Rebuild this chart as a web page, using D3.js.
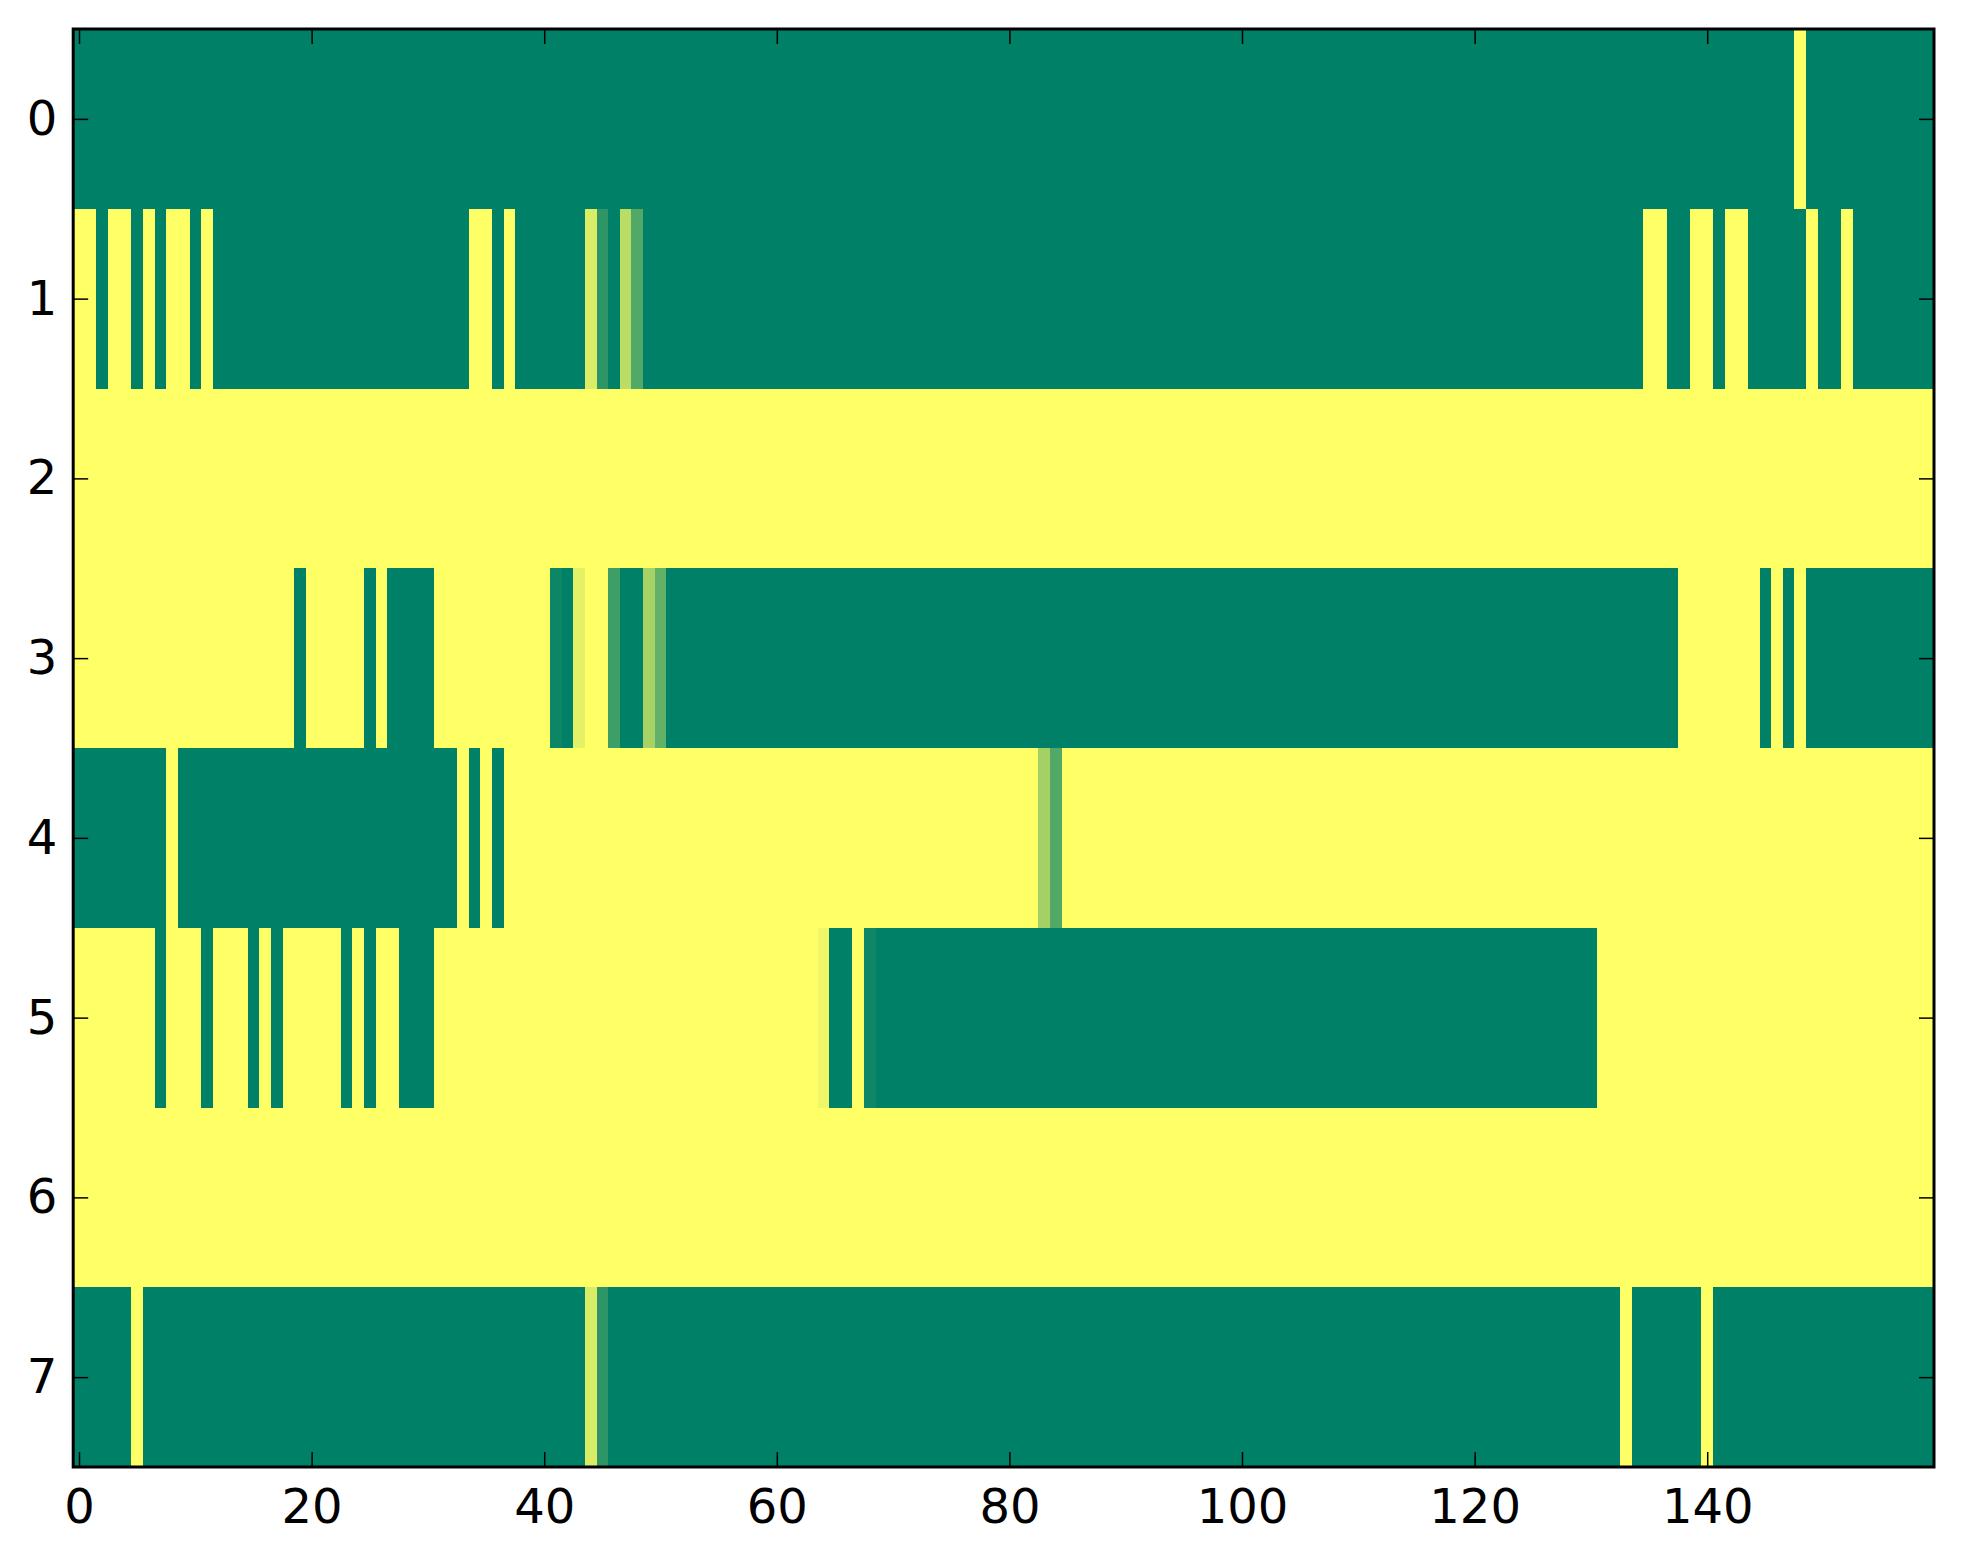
<!DOCTYPE html>
<html>
<head>
<meta charset="utf-8">
<script src="https://cdn.jsdelivr.net/npm/d3@7"></script>
<style>
  html, body { margin: 0; padding: 0; background: #fff; }
  svg { display: block; }
  .tick text { font-family: "DejaVu Sans", sans-serif; font-size: 48px; fill: #000; }
  .tick line { stroke: #000; stroke-width: 1.5px; }
</style>
</head>
<body>
<svg id="chart" width="1963" height="1564"></svg>
<script>
// heatmap rows (0 = green end of "summer", 1 = yellow end), 160 columns each
const row0 = [
  0,0,0,0,0,0,0,0,0,0, 0,0,0,0,0,0,0,0,0,0, 0,0,0,0,0,0,0,0,0,0, 0,0,0,0,0,0,0,0,0,0,
  0,0,0,0,0,0,0,0,0,0, 0,0,0,0,0,0,0,0,0,0, 0,0,0,0,0,0,0,0,0,0, 0,0,0,0,0,0,0,0,0,0,
  0,0,0,0,0,0,0,0,0,0, 0,0,0,0,0,0,0,0,0,0, 0,0,0,0,0,0,0,0,0,0, 0,0,0,0,0,0,0,0,0,0,
  0,0,0,0,0,0,0,0,0,0, 0,0,0,0,0,0,0,0,0,0, 0,0,0,0,0,0,0,0,1,0, 0,0,0,0,0,0,0,0,0,0
];
const row1 = [
  1,1,0,1,1,0,1,0,1,1, 0,1,0,0,0,0,0,0,0,0, 0,0,0,0,0,0,0,0,0,0, 0,0,0,0,1,1,0,1,0,0,
  0,0,0,0,.86,.18,0,.73,.32,0, 0,0,0,0,0,0,0,0,0,0, 0,0,0,0,0,0,0,0,0,0, 0,0,0,0,0,0,0,0,0,0,
  0,0,0,0,0,0,0,0,0,0, 0,0,0,0,0,0,0,0,0,0, 0,0,0,0,0,0,0,0,0,0, 0,0,0,0,0,0,0,0,0,0,
  0,0,0,0,0,0,0,0,0,0, 0,0,0,0,0,1,1,0,0,1, 1,0,1,1,0,0,0,0,0,1, 0,0,1,0,0,0,0,0,0,0
];
const row2 = [
  1,1,1,1,1,1,1,1,1,1, 1,1,1,1,1,1,1,1,1,1, 1,1,1,1,1,1,1,1,1,1, 1,1,1,1,1,1,1,1,1,1,
  1,1,1,1,1,1,1,1,1,1, 1,1,1,1,1,1,1,1,1,1, 1,1,1,1,1,1,1,1,1,1, 1,1,1,1,1,1,1,1,1,1,
  1,1,1,1,1,1,1,1,1,1, 1,1,1,1,1,1,1,1,1,1, 1,1,1,1,1,1,1,1,1,1, 1,1,1,1,1,1,1,1,1,1,
  1,1,1,1,1,1,1,1,1,1, 1,1,1,1,1,1,1,1,1,1, 1,1,1,1,1,1,1,1,1,1, 1,1,1,1,1,1,1,1,1,1
];
const row3 = [
  1,1,1,1,1,1,1,1,1,1, 1,1,1,1,1,1,1,1,1,0, 1,1,1,1,1,0,1,0,0,0, 0,1,1,1,1,1,1,1,1,1,
  1,.05,0,.89,1,1,.24,0,0,.65, .39,0,0,0,0,0,0,0,0,0, 0,0,0,0,0,0,0,0,0,0, 0,0,0,0,0,0,0,0,0,0,
  0,0,0,0,0,0,0,0,0,0, 0,0,0,0,0,0,0,0,0,0, 0,0,0,0,0,0,0,0,0,0, 0,0,0,0,0,0,0,0,0,0,
  0,0,0,0,0,0,0,0,0,0, 0,0,0,0,0,0,0,0,1,1, 1,1,1,1,1,0,1,0,1,0, 0,0,0,0,0,0,0,0,0,0
];
const row4 = [
  0,0,0,0,0,0,0,0,1,0, 0,0,0,0,0,0,0,0,0,0, 0,0,0,0,0,0,0,0,0,0, 0,0,0,1,0,1,0,1,1,1,
  1,1,1,1,1,1,1,1,1,1, 1,1,1,1,1,1,1,1,1,1, 1,1,1,1,1,1,1,1,1,1, 1,1,1,1,1,1,1,1,1,1,
  1,1,1,.64,.32,1,1,1,1,1, 1,1,1,1,1,1,1,1,1,1, 1,1,1,1,1,1,1,1,1,1, 1,1,1,1,1,1,1,1,1,1,
  1,1,1,1,1,1,1,1,1,1, 1,1,1,1,1,1,1,1,1,1, 1,1,1,1,1,1,1,1,1,1, 1,1,1,1,1,1,1,1,1,1
];
const row5 = [
  1,1,1,1,1,1,1,0,1,1, 1,0,1,1,1,0,1,0,1,1, 1,1,1,0,1,0,1,1,0,0, 0,1,1,1,1,1,1,1,1,1,
  1,1,1,1,1,1,1,1,1,1, 1,1,1,1,1,1,1,1,1,1, 1,1,1,1,.94,0,0,1,.06,0, 0,0,0,0,0,0,0,0,0,0,
  0,0,0,0,0,0,0,0,0,0, 0,0,0,0,0,0,0,0,0,0, 0,0,0,0,0,0,0,0,0,0, 0,0,0,0,0,0,0,0,0,0,
  0,0,0,0,0,0,0,0,0,0, 0,1,1,1,1,1,1,1,1,1, 1,1,1,1,1,1,1,1,1,1, 1,1,1,1,1,1,1,1,1,1
];
const row6 = [
  1,1,1,1,1,1,1,1,1,1, 1,1,1,1,1,1,1,1,1,1, 1,1,1,1,1,1,1,1,1,1, 1,1,1,1,1,1,1,1,1,1,
  1,1,1,1,1,1,1,1,1,1, 1,1,1,1,1,1,1,1,1,1, 1,1,1,1,1,1,1,1,1,1, 1,1,1,1,1,1,1,1,1,1,
  1,1,1,1,1,1,1,1,1,1, 1,1,1,1,1,1,1,1,1,1, 1,1,1,1,1,1,1,1,1,1, 1,1,1,1,1,1,1,1,1,1,
  1,1,1,1,1,1,1,1,1,1, 1,1,1,1,1,1,1,1,1,1, 1,1,1,1,1,1,1,1,1,1, 1,1,1,1,1,1,1,1,1,1
];
const row7 = [
  0,0,0,0,0,1,0,0,0,0, 0,0,0,0,0,0,0,0,0,0, 0,0,0,0,0,0,0,0,0,0, 0,0,0,0,0,0,0,0,0,0,
  0,0,0,0,.85,.18,0,0,0,0, 0,0,0,0,0,0,0,0,0,0, 0,0,0,0,0,0,0,0,0,0, 0,0,0,0,0,0,0,0,0,0,
  0,0,0,0,0,0,0,0,0,0, 0,0,0,0,0,0,0,0,0,0, 0,0,0,0,0,0,0,0,0,0, 0,0,0,0,0,0,0,0,0,0,
  0,0,0,0,0,0,0,0,0,0, 0,0,0,1,0,0,0,0,0,0, 1,0,0,0,0,0,0,0,0,0, 0,0,0,0,0,0,0,0,0,0
];
const rows = [row0, row1, row2, row3, row4, row5, row6, row7];

const xTicks = [0, 20, 40, 60, 80, 100, 120, 140];
const yTicks = [0, 1, 2, 3, 4, 5, 6, 7];

// plot box
const boxL = 73.2, boxR = 1934, boxT = 29, boxB = 1467;
const nCols = row0.length, nRows = rows.length;

const svg = d3.select("#chart");

const x = d3.scaleLinear().domain([-0.5, nCols - 0.5]).range([boxL, boxR]);
const y = d3.scaleLinear().domain([-0.5, nRows - 0.5]).range([boxT, boxB]);

// matplotlib "summer": r = v, g = 0.5 + v/2, b = 0.4
const summer = v => d3.rgb(255 * v, 255 * (0.5 + 0.5 * v), 102).toString();
const color = d3.scaleSequential(summer).domain([0, 1]);

const cells = [];
rows.forEach((r, ri) => r.forEach((v, ci) => cells.push({ r: ri, c: ci, v })));

svg.append("g")
  .attr("shape-rendering", "crispEdges")
  .selectAll("rect")
  .data(cells)
  .join("rect")
  .attr("x", d => x(d.c - 0.5))
  .attr("y", d => y(d.r - 0.5))
  .attr("width", d => x(d.c + 0.5) - x(d.c - 0.5) + 0.5)
  .attr("height", d => y(d.r + 0.5) - y(d.r - 0.5) + 0.5)
  .attr("fill", d => color(d.v));

// ── Axes (ticks inward on all four sides) ─────────────────────
const tk = 15;

svg.append("g")
  .attr("transform", `translate(0,${boxB})`)
  .call(d3.axisBottom(x).tickValues(xTicks).tickSize(-tk).tickPadding(22).tickFormat(d3.format("d")))
  .call(g => g.select(".domain").remove());

svg.append("g")
  .attr("transform", `translate(0,${boxT})`)
  .call(d3.axisTop(x).tickValues(xTicks).tickSize(-tk).tickFormat(""))
  .call(g => g.select(".domain").remove());

svg.append("g")
  .attr("transform", `translate(${boxL},0)`)
  .call(d3.axisLeft(y).tickValues(yTicks).tickSize(-tk).tickPadding(16).tickFormat(d3.format("d")))
  .call(g => g.select(".domain").remove());

svg.append("g")
  .attr("transform", `translate(${boxR},0)`)
  .call(d3.axisRight(y).tickValues(yTicks).tickSize(-tk).tickFormat(""))
  .call(g => g.select(".domain").remove());

// frame
svg.append("rect")
  .attr("x", boxL).attr("y", boxT)
  .attr("width", boxR - boxL).attr("height", boxB - boxT)
  .attr("fill", "none")
  .attr("stroke", "#000")
  .attr("stroke-width", 3);
</script>
</body>
</html>
